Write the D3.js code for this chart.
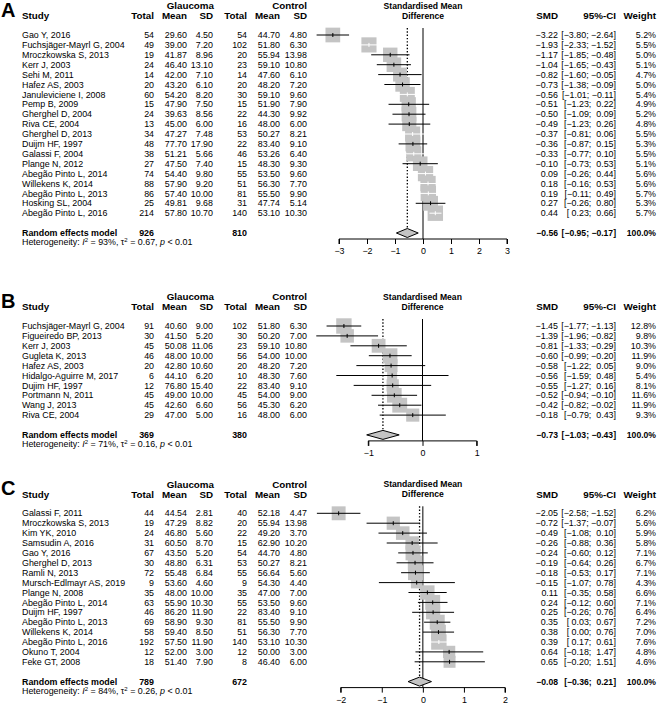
<!DOCTYPE html>
<html>
<head>
<meta charset="utf-8">
<title>Forest plots</title>
<script src="https://cdn.jsdelivr.net/npm/d3@7"></script>
<style>
    body { margin:0; background:#fff; }
    svg text { font-family:"Liberation Sans", Arial, sans-serif; fill:#000; white-space:pre; }
</style>
</head>
<body>
<svg id="svg" width="658" height="708"></svg>
<script>
// ---- panel A ----
const studyA = ["Gao Y, 2016","Fuchsjäger-Mayrl G, 2004","Mroczkowska S, 2013","Kerr J, 2003","Sehi M, 2011","Hafez AS, 2003","Januleviciene I, 2008","Pemp B, 2009","Gherghel D, 2004","Riva CE, 2004","Gherghel D, 2013","Duijm HF, 1997","Galassi F, 2004","Plange N, 2012","Abegão Pinto L, 2014","Willekens K, 2014","Abegão Pinto L, 2013","Hosking SL, 2004","Abegão Pinto L, 2016"];
const gTotA  = [54,49,19,24,14,20,60,15,24,13,34,48,38,27,74,88,86,25,214];
const gMeanA = [29.60,39.00,41.87,46.40,42.00,43.20,54.20,47.90,39.63,45.00,47.27,77.70,51.21,47.50,54.40,57.90,57.40,49.81,57.80];
const gSdA   = [4.50,7.20,8.96,13.10,7.10,6.10,8.20,7.50,8.56,6.00,7.48,17.90,5.66,7.40,9.80,9.20,10.00,9.68,10.70];
const cTotA  = [54,102,20,23,14,20,30,15,22,16,53,22,46,15,55,51,81,31,140];
const cMeanA = [44.70,51.80,55.94,59.10,47.60,48.20,59.10,51.90,44.30,48.00,50.27,83.40,53.26,48.30,53.50,56.30,55.50,47.74,53.10];
const cSdA   = [4.80,6.30,13.98,10.80,6.10,7.20,9.60,7.90,9.92,6.00,8.21,9.10,6.40,9.30,9.60,7.70,9.90,5.14,10.30];
const smdA   = [-3.22,-1.93,-1.17,-1.04,-0.82,-0.73,-0.56,-0.51,-0.50,-0.49,-0.37,-0.36,-0.33,-0.10,0.09,0.18,0.19,0.27,0.44];
const loA    = [-3.80,-2.33,-1.85,-1.65,-1.60,-1.38,-1.01,-1.23,-1.09,-1.23,-0.81,-0.87,-0.77,-0.73,-0.26,-0.16,-0.11,-0.26,0.23];
const hiA    = [-2.64,-1.52,-0.48,-0.43,-0.05,-0.09,-0.11,0.22,0.09,0.26,0.06,0.15,0.10,0.53,0.44,0.53,0.49,0.80,0.66];
const wA     = [5.2,5.5,5.0,5.1,4.7,5.0,5.4,4.9,5.2,4.8,5.5,5.3,5.5,5.1,5.6,5.6,5.7,5.3,5.7];
const pooledA = [-0.56,-0.95,-0.17];
const totalsA = [926,810];
const hetA = ["93%","0.67","< 0.01"];
const ticksA = [-3,-2,-1,0,1,2,3];

// ---- panel B ----
const studyB = ["Fuchsjäger-Mayrl G, 2004","Figueiredo BP, 2013","Kerr J, 2003","Gugleta K, 2013","Hafez AS, 2003","Hidalgo-Aguirre M, 2017","Dujim HF, 1997","Portmann N, 2011","Wang J, 2013","Riva CE, 2004"];
const gTotB  = [91,30,45,46,20,6,12,45,45,29];
const gMeanB = [40.60,41.50,50.08,48.00,42.80,44.10,76.80,49.00,42.60,47.00];
const gSdB   = [9.00,5.20,11.06,10.00,10.60,6.20,15.40,10.00,6.60,5.00];
const cTotB  = [102,30,23,56,20,10,22,45,56,16];
const cMeanB = [51.80,50.20,59.10,54.00,48.20,48.30,83.40,54.00,45.30,48.00];
const cSdB   = [6.30,7.00,10.80,10.00,7.20,7.60,9.10,9.00,6.20,6.00];
const smdB   = [-1.45,-1.39,-0.81,-0.60,-0.58,-0.56,-0.55,-0.52,-0.42,-0.18];
const loB    = [-1.77,-1.96,-1.33,-0.99,-1.22,-1.59,-1.27,-0.94,-0.82,-0.79];
const hiB    = [-1.13,-0.82,-0.29,-0.20,0.05,0.48,0.16,-0.10,-0.02,0.43];
const wB     = [12.8,9.8,10.3,11.9,9.0,5.4,8.1,11.6,11.9,9.3];
const pooledB = [-0.73,-1.03,-0.43];
const totalsB = [369,380];
const hetB = ["71%","0.16","< 0.01"];
const ticksB = [-1,0,1];

// ---- panel C ----
const studyC = ["Galassi F, 2011","Mroczkowska S, 2013","Kim YK, 2010","Samsudin A, 2016","Gao Y, 2016","Gherghel D, 2013","Ramli N, 2013","Mursch-Edlmayr AS, 2019","Plange N, 2008","Abegão Pinto L, 2014","Duijm HF, 1997","Abegão Pinto L, 2013","Willekens K, 2014","Abegão Pinto L, 2016","Okuno T, 2004","Feke GT, 2008"];
const gTotC  = [44,19,24,31,67,30,72,9,35,63,46,69,58,192,12,18];
const gMeanC = [44.54,47.29,46.80,60.50,43.50,48.80,55.48,53.60,48.00,55.90,86.20,58.90,59.40,57.50,52.00,51.40];
const gSdC   = [2.81,8.82,5.60,8.70,5.20,6.31,6.84,4.60,10.00,10.30,11.90,9.30,8.50,11.90,3.00,7.90];
const cTotC  = [40,20,22,15,54,53,55,9,35,55,22,81,51,140,12,8];
const cMeanC = [52.18,55.94,49.20,62.90,44.70,50.27,56.64,54.30,47.00,53.50,83.40,55.50,56.30,53.10,50.00,46.40];
const cSdC   = [4.47,13.98,3.70,10.20,4.80,8.21,5.60,4.40,7.00,9.60,9.10,9.90,7.70,10.30,3.00,6.00];
const smdC   = [-2.05,-0.72,-0.49,-0.26,-0.24,-0.19,-0.18,-0.15,0.11,0.24,0.25,0.35,0.38,0.39,0.64,0.65];
const loC    = [-2.58,-1.37,-1.08,-0.88,-0.60,-0.64,-0.53,-1.07,-0.35,-0.12,-0.26,0.03,0.00,0.17,-0.18,-0.20];
const hiC    = [-1.52,-0.07,0.10,0.36,0.12,0.26,0.17,0.78,0.58,0.60,0.76,0.67,0.76,0.61,1.47,1.51];
const wC     = [6.2,5.6,5.9,5.8,7.1,6.7,7.1,4.3,6.6,7.1,6.4,7.2,7.0,7.6,4.8,4.6];
const pooledC = [-0.08,-0.36,0.21];
const totalsC = [789,672];
const hetC = ["84%","0.26","< 0.01"];
const ticksC = [-2,-1,0,1,2];

// layout
const STEP = 9.9;
const FS = 8.9;
const HFS = 9.8;
const col = { study:22, gTot:154, gMean:187, gSd:213, cTot:247, cMean:280, cSd:307,
              smd:558, ciR:616, w:656 };
const SQ = "#c4c4c4";

const svg = d3.select("#svg");
const f2 = d3.format(".2f");
// pad positive numbers with a space so brackets line up
const pad = (v) => (v < 0 ? "" : " ") + f2(v);
const ciText = (lo, hi) => "[" + pad(lo) + "; " + pad(hi) + "]";

function txt(g, x, y, s, anchor, opts) {
    opts = opts || {};
    return g.append("text")
        .attr("x", x).attr("y", y).attr("dy", "0.35em")
        .attr("text-anchor", anchor || "start")
        .attr("font-size", opts.size || FS)
        .attr("font-weight", opts.bold ? "bold" : null)
        .text(s);
}

function drawPanel(p) {
    const g = svg.append("g");
    const x = d3.scaleLinear().domain(d3.extent(p.ticks)).range(p.range);
    const y = (i) => p.first + i*STEP;
    const n = p.study.length;
    const reY = y(n - 1) + 2*STEP;
    const axisY = reY + 6;
    const maxW = d3.max(p.w);
    const side = (w) => 15.4*Math.sqrt(w/maxW);

    // panel letter
    g.append("text").attr("x", 1).attr("y", p.first - 18)
        .attr("font-size", 20).attr("font-weight", "bold").text(p.letter);

    // headers
    const h1 = p.first - 29, h2 = p.first - 19;
    txt(g, 214, h1, "Glaucoma", "end", {bold:true, size:HFS});
    txt(g, col.cSd, h1, "Control", "end", {bold:true, size:HFS});
    txt(g, col.study, h2, "Study", "start", {bold:true, size:HFS});
    [["Total",col.gTot],["Mean",col.gMean],["SD",col.gSd],["Total",col.cTot],["Mean",col.cMean],["SD",col.cSd],
     ["SMD",col.smd],["95%-CI",col.ciR],["Weight",col.w]].forEach(d => txt(g, d[1], h2, d[0], "end", {bold:true, size:HFS}));
    txt(g, x(0), h1, "Standardised Mean", "middle", {bold:true, size:8.6});
    txt(g, x(0), h2, "Difference", "middle", {bold:true, size:8.6});

    // study rows: text
    p.study.forEach((s, i) => {
        const yy = y(i);
        txt(g, col.study, yy, s);
        txt(g, col.gTot, yy, p.gTot[i], "end");
        txt(g, col.gMean, yy, f2(p.gMean[i]), "end");
        txt(g, col.gSd, yy, f2(p.gSd[i]), "end");
        txt(g, col.cTot, yy, p.cTot[i], "end");
        txt(g, col.cMean, yy, f2(p.cMean[i]), "end");
        txt(g, col.cSd, yy, f2(p.cSd[i]), "end");
        txt(g, col.smd, yy, f2(p.smd[i]), "end");
        txt(g, col.ciR, yy, ciText(p.lo[i], p.hi[i]), "end");
        txt(g, col.w, yy, p.w[i].toFixed(1) + "%", "end");
    });

    // reference lines
    const top = p.first - 7;
    g.append("line").attr("x1", x(0)).attr("x2", x(0)).attr("y1", top).attr("y2", axisY)
        .attr("stroke", "#000").attr("stroke-width", 1);
    g.append("line").attr("x1", x(p.pooled[0])).attr("x2", x(p.pooled[0])).attr("y1", top).attr("y2", reY - 4.5)
        .attr("stroke", "#000").attr("stroke-width", 1.3).attr("stroke-dasharray", "1.4,1.9");

    // squares + CIs
    p.study.forEach((s, i) => {
        const yy = y(i), cx = x(p.smd[i]), sd = side(p.w[i]);
        g.append("rect").attr("x", cx - sd/2).attr("y", yy - sd/2).attr("width", sd).attr("height", sd)
            .attr("fill", SQ);
        const x1 = x(p.lo[i]), x2 = x(p.hi[i]);
        const inside = (x2 - x1) < 26;
        const c = inside ? "#fff" : "#000";
        g.append("line").attr("x1", x1).attr("x2", x2).attr("y1", yy).attr("y2", yy)
            .attr("stroke", c).attr("stroke-width", 1);
        g.append("line").attr("x1", cx).attr("x2", cx).attr("y1", yy - 2).attr("y2", yy + 2)
            .attr("stroke", c).attr("stroke-width", 1);
    });

    // random effects row
    txt(g, col.study, reY, "Random effects model", "start", {bold:true});
    txt(g, col.gTot, reY, p.totals[0], "end", {bold:true});
    txt(g, col.cTot, reY, p.totals[1], "end", {bold:true});
    txt(g, col.smd, reY, f2(p.pooled[0]), "end", {bold:true, size:8.6});
    txt(g, col.ciR, reY, ciText(p.pooled[1], p.pooled[2]), "end", {bold:true, size:8.6});
    txt(g, col.w, reY, "100.0%", "end", {bold:true, size:8.6});

    const dm = [[x(p.pooled[1]), reY], [x(p.pooled[0]), reY - 4.5], [x(p.pooled[2]), reY], [x(p.pooled[0]), reY + 4.5]];
    g.append("path").attr("d", d3.line()(dm) + "Z")
        .attr("fill", SQ).attr("stroke", "#000").attr("stroke-width", 1);

    // heterogeneity
    const ht = g.append("text").attr("x", col.study).attr("y", reY + 9).attr("dy", "0.35em")
        .attr("font-size", FS);
    ht.append("tspan").text("Heterogeneity: ");
    ht.append("tspan").attr("font-style", "italic").text("I");
    ht.append("tspan").attr("dy", -3.2).attr("font-size", 6).text("2");
    ht.append("tspan").attr("dy", 3.2).text(" = " + p.het[0] + ", τ");
    ht.append("tspan").attr("dy", -3.2).attr("font-size", 6).text("2");
    ht.append("tspan").attr("dy", 3.2).text(" = " + p.het[1] + ", ");
    ht.append("tspan").attr("font-style", "italic").text("p");
    ht.append("tspan").text(" " + p.het[2]);

    // axis
    const axis = d3.axisBottom(x).tickValues(p.ticks).tickSize(5).tickPadding(4).tickFormat(d3.format("d"));
    const ag = g.append("g").attr("transform", `translate(0,${axisY})`).call(axis);
    ag.select(".domain").attr("d", `M${p.range[0]},5V0H${p.range[1]}V5`).attr("stroke-width", 1);
    ag.selectAll("text").attr("font-size", FS).attr("font-family", "Liberation Sans, Arial, sans-serif");
}

drawPanel({letter:"A", study:studyA, gTot:gTotA, gMean:gMeanA, gSd:gSdA, cTot:cTotA, cMean:cMeanA, cSd:cSdA,
    smd:smdA, lo:loA, hi:hiA, w:wA, pooled:pooledA, totals:totalsA, het:hetA, ticks:ticksA,
    range:[339, 507], first:35});
drawPanel({letter:"B", study:studyB, gTot:gTotB, gMean:gMeanB, gSd:gSdB, cTot:cTotB, cMean:cMeanB, cSd:cSdB,
    smd:smdB, lo:loB, hi:hiB, w:wB, pooled:pooledB, totals:totalsB, het:hetB, ticks:ticksB,
    range:[368.3, 476.7], first:326});
drawPanel({letter:"C", study:studyC, gTot:gTotC, gMean:gMeanC, gSd:gSdC, cTot:cTotC, cMean:cMeanC, cSd:cSdC,
    smd:smdC, lo:loC, hi:hiC, w:wC, pooled:pooledC, totals:totalsC, het:hetC, ticks:ticksC,
    range:[340.7, 505], first:513.3});
</script>
</body>
</html>
